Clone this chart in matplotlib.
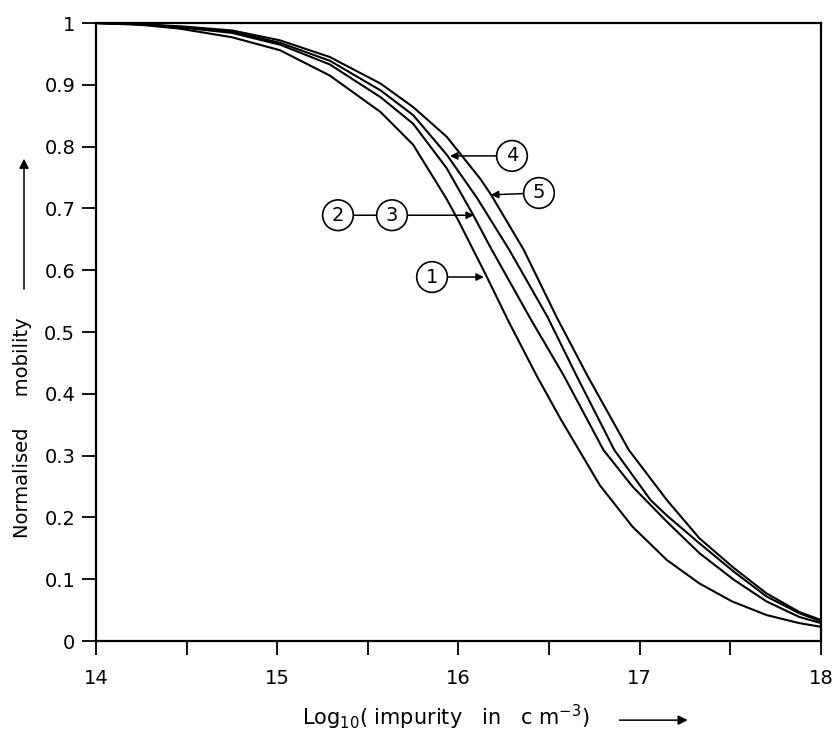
import numpy as np
import matplotlib
matplotlib.use('Agg')
import matplotlib.pyplot as plt

# 正規化移動度（曲線ごとに読み取った値）
x_c1 = [14.0, 14.25, 14.46, 14.75, 15.015, 15.29, 15.57, 15.75, 15.935, 16.0, 16.15,
        16.28, 16.43, 16.56, 16.78, 16.96, 17.15, 17.33, 17.51, 17.70, 17.88, 18.0]
y_c1 = [1.0, 0.997, 0.991, 0.977, 0.956, 0.915, 0.856, 0.803, 0.715, 0.68, 0.593,
        0.515, 0.43, 0.361, 0.252, 0.185, 0.131, 0.093, 0.064, 0.042, 0.029, 0.023]

x_c23 = [14.0, 14.25, 14.5, 14.75, 15.015, 15.29, 15.57, 15.75, 15.935, 16.08, 16.18,
         16.40, 16.58, 16.80, 16.96, 17.15, 17.33, 17.52, 17.70, 17.88, 18.0]
y_c23 = [1.0, 0.998, 0.992, 0.984, 0.965, 0.933, 0.880, 0.837, 0.765, 0.690, 0.635,
         0.52, 0.43, 0.309, 0.25, 0.193, 0.142, 0.099, 0.064, 0.039, 0.029]

x_c4 = [14.0, 14.25, 14.5, 14.75, 15.015, 15.29, 15.57, 15.75, 15.935, 16.1, 16.28,
        16.49, 16.65, 16.86, 17.06, 17.15, 17.33, 17.52, 17.70, 17.88, 18.0]
y_c4 = [1.0, 0.998, 0.993, 0.986, 0.968, 0.939, 0.891, 0.851, 0.787, 0.718, 0.633,
        0.525, 0.43, 0.309, 0.228, 0.203, 0.158, 0.112, 0.072, 0.045, 0.032]

x_c5 = [14.0, 14.25, 14.5, 14.75, 15.015, 15.29, 15.57, 15.75, 15.935, 16.12, 16.18,
        16.36, 16.54, 16.71, 16.94, 17.15, 17.33, 17.52, 17.70, 17.88, 18.0]
y_c5 = [1.0, 0.998, 0.994, 0.988, 0.972, 0.945, 0.902, 0.864, 0.816, 0.748, 0.722,
        0.633, 0.525, 0.43, 0.309, 0.228, 0.166, 0.118, 0.077, 0.047, 0.034]

# 曲線番号ラベル（番号, 矢印の先, 丸の位置）
label_text = ['1', '3', '4', '5']
label_tip = [(16.14, 0.589), (16.085, 0.689), (15.953, 0.785), (16.179, 0.722)]
label_pos = [(15.854, 0.589), (15.633, 0.689), (16.295, 0.785), (16.444, 0.725)]
label2_pos = (15.335, 0.689)

yticks = np.arange(0, 1.01, 0.1)
ytick_labels = ['0', '0.1', '0.2', '0.3', '0.4', '0.5', '0.6', '0.7', '0.8', '0.9', '1']
xticks = np.arange(14, 18.01, 0.5)
xtick_labels = ['14', '', '15', '', '16', '', '17', '', '18']

plt.rcParams['font.family'] = ['DejaVu Sans']
fig = plt.figure(figsize=(8.34, 7.38), dpi=100)
ax = fig.add_axes([0.1151, 0.1314, 0.8693, 0.8374])

for xs, ys in [(x_c1, y_c1), (x_c23, y_c23), (x_c4, y_c4), (x_c5, y_c5)]:
    ax.plot(xs, ys, color='black', lw=1.5, solid_joinstyle='round')

ax.set_xlim(14, 18)
ax.set_ylim(0, 1)
ax.set_xticks(xticks)
ax.set_xticklabels(xtick_labels, fontsize=14)
ax.set_yticks(yticks)
ax.set_yticklabels(ytick_labels, fontsize=14)
ax.tick_params(axis='x', direction='out', length=10, width=1.3, pad=10)
ax.tick_params(axis='y', direction='out', length=10, width=1.3, pad=5)
for sp in ax.spines.values():
    sp.set_linewidth(1.6)

# 番号付きの丸と矢印
circ = dict(boxstyle='circle,pad=0.3', fc='white', ec='black', lw=1.2)
arr = dict(arrowstyle='-|>', color='black', lw=1.1, mutation_scale=11,
           shrinkA=0, shrinkB=0)
ax.annotate('2', xy=label_pos[1], xytext=label2_pos, fontsize=14, ha='center',
            va='center', bbox=circ, zorder=4,
            arrowprops=dict(arrowstyle='-', color='black', lw=1.1, shrinkA=0, shrinkB=0))
for txt, tip, pos in zip(label_text, label_tip, label_pos):
    ax.annotate(txt, xy=tip, xytext=pos, fontsize=14, ha='center', va='center',
                bbox=circ, arrowprops=arr, zorder=5)

# 軸ラベルと矢印
ax.text(-0.102, 0.346, 'Normalised     mobility', transform=ax.transAxes, rotation=90,
        ha='center', va='center', fontsize=14)
ax.annotate('', xy=(-0.0993, 0.785), xytext=(-0.0993, 0.565), xycoords='axes fraction',
            textcoords='axes fraction', annotation_clip=False,
            arrowprops=dict(arrowstyle='-|>', color='black', lw=1.1, mutation_scale=14))
ax.text(0.483, -0.123, r'Log$_{10}$( impurity   in   c m$^{-3}$)', transform=ax.transAxes,
        ha='center', va='center', fontsize=15)
ax.annotate('', xy=(0.82, -0.128), xytext=(0.718, -0.128), xycoords='axes fraction',
            textcoords='axes fraction', annotation_clip=False,
            arrowprops=dict(arrowstyle='-|>', color='black', lw=1.1, mutation_scale=14))

plt.savefig('out.png', dpi=100)
